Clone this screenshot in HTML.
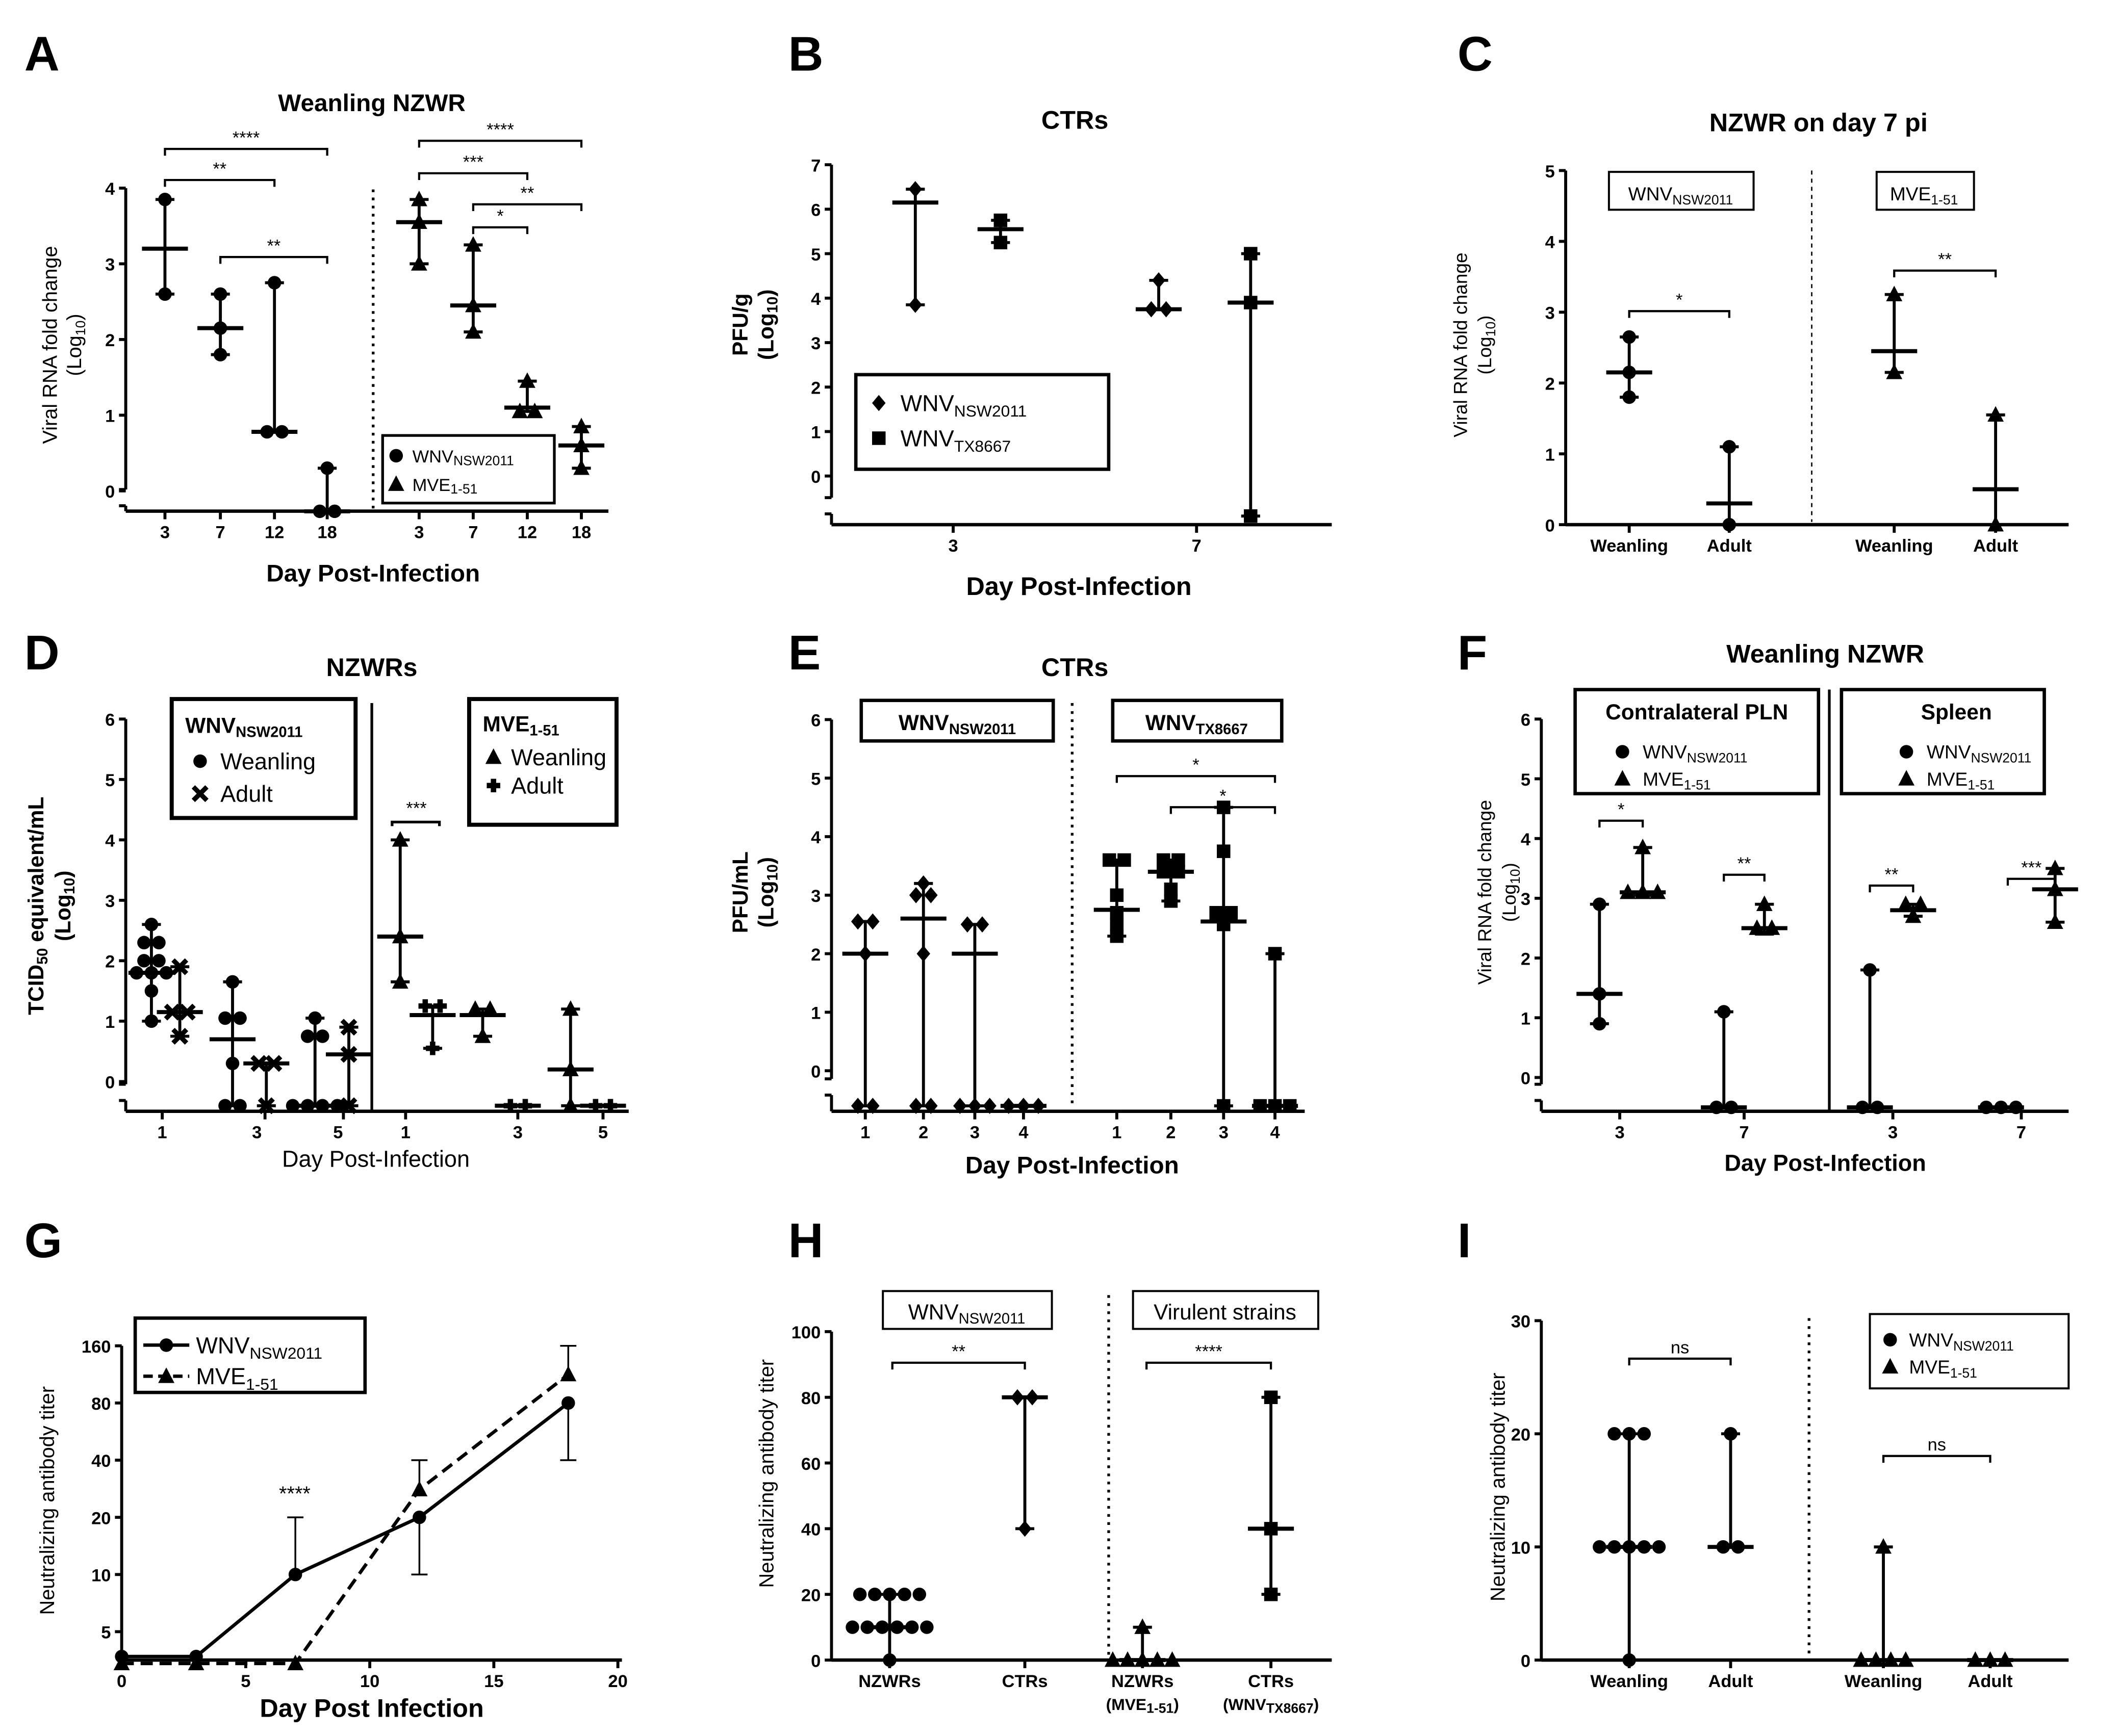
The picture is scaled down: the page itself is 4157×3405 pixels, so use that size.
<!DOCTYPE html>
<html><head><meta charset="utf-8"><style>
html,body{margin:0;padding:0;background:#fff;}
svg{display:block;font-family:"Liberation Sans",Arial,sans-serif;}
</style></head><body>
<svg id="fig" xmlns="http://www.w3.org/2000/svg" width="4157" height="3405" viewBox="0 0 1568 1284">
<rect x="0" y="0" width="1568" height="1284" fill="#fff"/>
</svg>
<script>
// ---------- data ----------
const aWnv=[[3.85,2.6],[2.6,2.15,1.8],[2.75,0.78,0.8],[0.3,-0.27,-0.27]];
const aWnvMed=[3.2,2.15,0.78,-0.27];
const aMve=[[3.85,3.55,3.0],[3.25,2.45,2.1],[1.45,1.05,1.1],[0.85,0.6,0.3]];
const aMveMed=[3.55,2.45,1.1,0.6];
const aDays=['3','7','12','18'];

const bNsw=[[6.45,3.85],[4.4,3.75,3.75]];
const bNswMed=[6.15,3.75];
const bTx=[[5.75,5.25],[5.0,3.9,-0.9]];
const bTxMed=[5.55,3.9];

const cVals=[[2.65,2.15,1.8],[1.1,0.0],[3.25,2.15],[1.55,0.0]];
const cMed=[2.15,0.3,2.45,0.5];
const cCats=['Weanling','Adult','Weanling','Adult'];

const dWnvW=[[2.6,2.3,2.2,2.0,1.9,1.8,1.8,1.7,1.5,1.0],[1.65,1.05,0.9,0.3,-0.4,-0.4],[1.05,0.75,0.6,-0.4,-0.4,-0.4,-0.4]];
const dWnvWMed=[1.8,0.7,-0.4];
const dWnvA=[[1.9,1.15,1.1,0.75],[0.3,0.3,-0.4],[0.9,0.45,-0.4]];
const dWnvAMed=[1.15,0.3,0.45];
const dMveW=[[4.0,2.4,1.65],[1.2,1.15,0.75],[1.2,0.2,-0.4]];
const dMveWMed=[2.4,1.1,0.2];
const dMveA=[[1.25,1.15,0.55],[-0.4,-0.4],[-0.4,-0.4]];
const dMveAMed=[1.1,-0.4,-0.4];
const dDays=['1','3','5'];

const eNsw=[[2.55,2.4,2.0,-0.6,-0.6],[3.2,3.0,2.9,2.0,-0.6,-0.6],[2.5,2.45,-0.6,-0.6,-0.6],[-0.6,-0.6,-0.6]];
const eNswMed=[2.0,2.6,2.0,-0.6];
const eTx=[[3.6,3.5,3.0,2.7,2.5,2.3],[3.6,3.5,3.4,3.3,3.1,2.9],[4.5,3.75,2.7,2.6,2.5,-0.6],[2.0,-0.6,-0.6,-0.6]];
const eTxMed=[2.75,3.4,2.55,-0.6];
const eDays=['1','2','3','4'];

const fWnv=[[2.9,1.4,0.9],[1.1,-0.5,-0.5],[1.8,-0.5,-0.5],[-0.5,-0.5,-0.5]];
const fWnvMed=[1.4,-0.5,-0.5,-0.5];
const fMve=[[3.85,3.1,3.05,3.1],[2.9,2.5,2.4],[2.9,2.75,2.7],[3.5,3.15,2.6]];
const fMveMed=[3.1,2.5,2.8,3.15];
const fDays=['3','7','3','7'];

const gDays=[0,3,7,12,18];
const gWnv=[3.7,3.7,10,20,80];
const gWnvErr=[null,null,20,10,40];
const gMve=[3.4,3.4,3.4,28,113];
const gMveErr=[null,null,null,40,160];
const gTicks=[5,10,20,40,80,160];

const hVals=[[20,20,20,20,20,10,10,10,10,10,10,0],[80,80,40],[10,0,0,0,0,0],[80,40,20]];
const hMed=[10,80,0,40];

const iVals=[[20,20,20,10,10,10,10,10,0],[20,10,10],[10,0,0,0,0],[0,0,0]];
const iMed=[10,10,0,0];
const iRangeTop=[20,20,2.5,0];

// ---------- helpers ----------
const NS='http://www.w3.org/2000/svg';
const S=document.getElementById('fig');
function el(tag,attrs,name,parent){
  const e=document.createElementNS(NS,tag);
  for(const k in attrs)e.setAttribute(k,attrs[k]);
  
  
  (parent||S).appendChild(e);return e;
}
function line(x1,y1,x2,y2,name,w,dash){const a={x1,y1,x2,y2,stroke:'#000','stroke-width':w||2.2};if(dash)a['stroke-dasharray']=dash;return el('line',a,name);}
function txt(x,y,s,name,size,opts){
  opts=opts||{};
  const t=el('text',{x,y,'font-size':size||14,'text-anchor':opts.anchor||'middle','font-weight':opts.bold?'bold':'normal',fill:'#000'},name);
  if(opts.rot)t.setAttribute('transform','rotate(-90 '+x+' '+y+')');
  t.innerHTML=s;return t;
}
function mk(type,x,y,name){
  const r=5;
  if(type==='circle')return el('circle',{cx:x,cy:y,r:r},name);
  if(type==='tri')return el('polygon',{points:`${x},${y-6.5} ${x+6},${y+5} ${x-6},${y+5}`},name);
  if(type==='dia')return el('polygon',{points:`${x},${y-6} ${x+5},${y} ${x},${y+6} ${x-5},${y}`},name);
  if(type==='sq')return el('rect',{x:x-5,y:y-5,width:10,height:10},name);
  if(type==='x')return el('path',{d:`M${x-5},${y-5}L${x+5},${y+5}M${x+5},${y-5}L${x-5},${y+5}`,stroke:'#000','stroke-width':3.5},name);
  if(type==='plus')return el('path',{d:`M${x-5},${y}L${x+5},${y}M${x},${y-5}L${x},${y+5}`,stroke:'#000','stroke-width':4},name);
}
function group(x,vals,med,type,yf,name,top){
  const ys=vals.map(yf);
  const mn=Math.max(...ys), mx=Math.min(...ys.concat(top!==undefined?[yf(top)]:[]));
  line(x,mx,x,mn,name+'-range');
  line(x-7,mx,x+7,mx,name+'-cap-top');
  line(x-7,mn,x+7,mn,name+'-cap-bottom');
  line(x-17,yf(med),x+17,yf(med),name+'-median',3);
  // spread duplicates
  const used={};
  const buckets=[];
  ys.forEach(y=>{let b=buckets.find(b=>Math.abs(b.y-y)<7);if(!b){b={y,n:0};buckets.push(b);}b.n++;});
  buckets.forEach(b=>{for(let i=0;i<b.n;i++){const dx=(i-(b.n-1)/2)*11;mk(type,x+dx,b.y,name+'-point');}});
}
function yaxis(x,ticks,yf,bottom,breakY,name,fmt){
  const top=yf(ticks[ticks.length-1]);
  line(x,top,x,breakY?breakY-8:bottom,name+'-line');
  if(breakY){line(x,breakY+4,x,bottom,name+'-line-low');line(x-5,breakY-8,x,breakY-8,name+'-break');line(x-5,breakY+4,x,breakY+4,name+'-break2');}
  ticks.forEach(t=>{const y=yf(t);line(x-5,y,x,y,name+'-tick');txt(x-8,y+5,fmt?fmt(t):t,name+'-tick-label',13,{anchor:'end',bold:true});});
}
function xaxis(x1,x2,y,ticks,labels,name){
  line(x1,y,x2,y,name+'-line',2.5);
  ticks.forEach((t,i)=>{line(t,y,t,y+6,name+'-tick');if(labels)txt(t,y+20,labels[i],name+'-tick-label',13,{bold:true});});
}
function bracket(x1,x2,y,label,name){
  el('path',{d:`M${x1},${y+5}L${x1},${y}L${x2},${y}L${x2},${y+5}`,fill:'none',stroke:'#000','stroke-width':1.6},name);
  txt((x1+x2)/2,y-4,label,name+'-label',13);
}
function box(x,y,w,h,name,sw){return el('rect',{x,y,width:w,height:h,fill:'#fff',stroke:'#000','stroke-width':sw||2.5},name);}
function letter(x,y,s){txt(x,y,s,'panel-label-'+s.toLowerCase(),36,{anchor:'start',bold:true});}

// ---------- Panel A ----------
letter(18,52,'A');
txt(275,82,'Weanling NZWR','panel-a-title',18,{bold:true});
const yA=v=>363-56*v;
yaxis(93,[0,1,2,3,4],yA,378,370,'panel-a-y-axis');
const aX1=[122,163,203,242], aX2=[310,350,390,430];
xaxis(93,450,378,aX1.concat(aX2),aDays.concat(aDays),'panel-a-x-axis');
line(276,140,276,376,'panel-a-separator',2,'2,4');
aWnv.forEach((v,i)=>group(aX1[i],v,aWnvMed[i],'circle',yA,'panel-a-wnv-day'+aDays[i]));
aMve.forEach((v,i)=>group(aX2[i],v,aMveMed[i],'tri',yA,'panel-a-mve-day'+aDays[i]));
bracket(122,242,110,'****','panel-a-sig1');bracket(122,203,133,'**','panel-a-sig2');bracket(163,242,190,'**','panel-a-sig3');
bracket(310,430,104,'****','panel-a-sig4');bracket(310,390,128,'***','panel-a-sig5');bracket(350,430,151,'**','panel-a-sig6');bracket(350,390,168,'*','panel-a-sig7');
box(283,322,127,50,'panel-a-legend',2);
mk('circle',293,337,'panel-a-legend-wnv-marker');txt(305,342,'WNV<tspan font-size="10" dy="2">NSW2011</tspan>','panel-a-legend-wnv',13,{anchor:'start'});
mk('tri',293,358,'panel-a-legend-mve-marker');txt(305,363,'MVE<tspan font-size="10" dy="2">1-51</tspan>','panel-a-legend-mve',13,{anchor:'start'});
txt(42,255,'Viral RNA fold change','panel-a-y-title',15,{rot:true});
txt(60,255,'(Log<tspan font-size="10" dy="3">10</tspan><tspan dy="-3">)</tspan>','panel-a-y-title2',15,{rot:true});
txt(276,430,'Day Post-Infection','panel-a-x-title',18,{bold:true});

// ---------- Panel B ----------
letter(583,52,'B');
txt(795,95,'CTRs','panel-b-title',19,{bold:true});
const yB=v=>352-32.9*v;
yaxis(615,[0,1,2,3,4,5,6,7],yB,388,376,'panel-b-y-axis');
xaxis(615,985,388,[705,885],['3','7'],'panel-b-x-axis');
const bXn=[677,857], bXt=[740,925];
bNsw.forEach((v,i)=>group(bXn[i],v,bNswMed[i],'dia',yB,'panel-b-nsw-'+i));
bTx.forEach((v,i)=>group(bXt[i],v,bTxMed[i],'sq',yB,'panel-b-tx-'+i));
box(633,277,187,70,'panel-b-legend',2.5);
mk('dia',650,298,'panel-b-legend-nsw-marker');txt(666,304,'WNV<tspan font-size="12" dy="4">NSW2011</tspan>','panel-b-legend-nsw',17,{anchor:'start'});
mk('sq',650,324,'panel-b-legend-tx-marker');txt(666,330,'WNV<tspan font-size="12" dy="4">TX8667</tspan>','panel-b-legend-tx',17,{anchor:'start'});
txt(553,240,'PFU/g','panel-b-y-title',16,{rot:true,bold:true});
txt(572,240,'(Log<tspan font-size="11" dy="3">10</tspan><tspan dy="-3">)</tspan>','panel-b-y-title2',16,{rot:true,bold:true});
txt(798,440,'Day Post-Infection','panel-b-x-title',19,{bold:true});

// ---------- Panel C ----------
letter(1078,52,'C');
txt(1345,97,'NZWR on day 7 pi','panel-c-title',19,{bold:true});
const yC=v=>388-52.4*v;
yaxis(1158,[0,1,2,3,4,5],yC,388,null,'panel-c-y-axis');
const cX=[1205,1279,1401,1476];
xaxis(1158,1530,388,cX,cCats,'panel-c-x-axis');
line(1340,126,1340,386,'panel-c-separator',1,'3,3');
const cT=['circle','circle','tri','tri'];
cVals.forEach((v,i)=>group(cX[i],v,cMed[i],cT[i],yC,'panel-c-group-'+i));
bracket(1205,1279,230,'*','panel-c-sig1');bracket(1401,1476,200,'**','panel-c-sig2');
box(1190,127,107,28,'panel-c-box-wnv',1.5);txt(1243,148,'WNV<tspan font-size="10" dy="3">NSW2011</tspan>','panel-c-box-wnv-label',14);
box(1388,127,72,28,'panel-c-box-mve',1.5);txt(1423,148,'MVE<tspan font-size="10" dy="3">1-51</tspan>','panel-c-box-mve-label',14);
txt(1085,255,'Viral RNA fold change','panel-c-y-title',14,{rot:true});
txt(1103,255,'(Log<tspan font-size="10" dy="3">10</tspan><tspan dy="-3">)</tspan>','panel-c-y-title2',14,{rot:true});

// ---------- Panel D ----------
letter(18,495,'D');
txt(275,500,'NZWRs','panel-d-title',19,{bold:true});
const yD=v=>800-44.7*v;
yaxis(93,[0,1,2,3,4,5,6],yD,822,810,'panel-d-y-axis');
xaxis(93,465,822,[120,196,254,300,383,446],null,'panel-d-x-axis');
['1','3','5','1','3','5'].forEach((s,i)=>txt([120,190,250,300,383,446][i],842,s,'panel-d-x-tick-label',13,{bold:true}));
line(275,520,275,822,'panel-d-separator',2);
const dxW=[112,172,233],dxA=[133,197,258],dxMW=[296,357,422],dxMA=[320,383,446];
dWnvW.forEach((v,i)=>group(dxW[i],v,dWnvWMed[i],'circle',yD,'panel-d-wnv-weanling-'+i));
dWnvA.forEach((v,i)=>group(dxA[i],v,dWnvAMed[i],'x',yD,'panel-d-wnv-adult-'+i));
dMveW.forEach((v,i)=>group(dxMW[i],v,dMveWMed[i],'tri',yD,'panel-d-mve-weanling-'+i));
dMveA.forEach((v,i)=>group(dxMA[i],v,dMveAMed[i],'plus',yD,'panel-d-mve-adult-'+i));
el('path',{d:'M290,611L290,608L325,608L325,611',fill:'none',stroke:'#000','stroke-width':2},'panel-d-sig');txt(308,602,'***','panel-d-sig-label',13);
box(127,517,136,88,'panel-d-legend-wnv',3);
txt(137,542,'WNV<tspan font-size="11" dy="3">NSW2011</tspan>','panel-d-legend-wnv-title',16,{anchor:'start',bold:true});
mk('circle',148,563,'panel-d-legend-weanling-marker');txt(163,569,'Weanling','panel-d-legend-weanling',17,{anchor:'start'});
mk('x',148,587,'panel-d-legend-adult-marker');txt(163,593,'Adult','panel-d-legend-adult',17,{anchor:'start'});
box(347,517,109,93,'panel-d-legend-mve',3);
txt(357,541,'MVE<tspan font-size="11" dy="3">1-51</tspan>','panel-d-legend-mve-title',16,{anchor:'start',bold:true});
mk('tri',365,560,'panel-d-legend-weanling2-marker');txt(378,566,'Weanling','panel-d-legend-weanling2',17,{anchor:'start'});
mk('plus',365,581,'panel-d-legend-adult2-marker');txt(378,587,'Adult','panel-d-legend-adult2',17,{anchor:'start'});
txt(32,670,'TCID<tspan font-size="11" dy="3">50</tspan><tspan dy="-3"> equivalent/mL</tspan>','panel-d-y-title',16,{rot:true,bold:true});
txt(52,670,'(Log<tspan font-size="11" dy="3">10</tspan><tspan dy="-3">)</tspan>','panel-d-y-title2',16,{rot:true,bold:true});
txt(278,863,'Day Post-Infection','panel-d-x-title',17);

// ---------- Panel E ----------
letter(583,495,'E');
txt(795,500,'CTRs','panel-e-title',19,{bold:true});
const yE=v=>792-43.3*v;
yaxis(615,[0,1,2,3,4,5,6],yE,822,806,'panel-e-y-axis');
const eX1=[640,683,721,757],eX2=[826,866,905,943];
xaxis(615,965,822,eX1.concat(eX2),eDays.concat(eDays),'panel-e-x-axis');
line(793,520,793,820,'panel-e-separator',2,'2,4');
eNsw.forEach((v,i)=>group(eX1[i],v,eNswMed[i],'dia',yE,'panel-e-nsw-day'+eDays[i]));
eTx.forEach((v,i)=>group(eX2[i],v,eTxMed[i],'sq',yE,'panel-e-tx-day'+eDays[i]));
bracket(826,943,574,'*','panel-e-sig1');bracket(866,943,597,'*','panel-e-sig2');
box(637,518,142,30,'panel-e-box-nsw',2.5);txt(708,540,'WNV<tspan font-size="11" dy="3">NSW2011</tspan>','panel-e-box-nsw-label',16,{bold:true});
box(823,518,125,30,'panel-e-box-tx',2.5);txt(885,540,'WNV<tspan font-size="11" dy="3">TX8667</tspan>','panel-e-box-tx-label',16,{bold:true});
txt(553,660,'PFU/mL','panel-e-y-title',16,{rot:true,bold:true});
txt(572,660,'(Log<tspan font-size="11" dy="3">10</tspan><tspan dy="-3">)</tspan>','panel-e-y-title2',16,{rot:true,bold:true});
txt(793,868,'Day Post-Infection','panel-e-x-title',18,{bold:true});

// ---------- Panel F ----------
letter(1078,495,'F');
txt(1350,490,'Weanling NZWR','panel-f-title',19,{bold:true});
const yF=v=>797-44.2*v;
yaxis(1140,[0,1,2,3,4,5,6],yF,822,810,'panel-f-y-axis');
xaxis(1140,1530,822,[1198,1290,1400,1495],fDays,'panel-f-x-axis');
line(1353,510,1353,822,'panel-f-separator',2);
const fXw=[1183,1275,1383,1480],fXm=[1215,1305,1415,1520];
fWnv.forEach((v,i)=>group(fXw[i],v,fWnvMed[i],'circle',yF,'panel-f-wnv-'+i));
fMve.forEach((v,i)=>group(fXm[i],v,fMveMed[i],'tri',yF,'panel-f-mve-'+i));
bracket(1183,1215,607,'*','panel-f-sig1');bracket(1275,1305,647,'**','panel-f-sig2');bracket(1383,1415,655,'**','panel-f-sig3');bracket(1485,1520,650,'***','panel-f-sig4');
box(1165,510,180,77,'panel-f-legend-pln',2.5);
txt(1255,532,'Contralateral PLN','panel-f-legend-pln-title',16,{bold:true});
mk('circle',1200,556,'panel-f-legend-wnv-marker');txt(1215,561,'WNV<tspan font-size="10" dy="3">NSW2011</tspan>','panel-f-legend-wnv',14,{anchor:'start'});
mk('tri',1200,576,'panel-f-legend-mve-marker');txt(1215,581,'MVE<tspan font-size="10" dy="3">1-51</tspan>','panel-f-legend-mve',14,{anchor:'start'});
box(1362,510,150,77,'panel-f-legend-spleen',2.5);
txt(1447,532,'Spleen','panel-f-legend-spleen-title',16,{bold:true});
mk('circle',1410,556,'panel-f-legend-wnv2-marker');txt(1425,561,'WNV<tspan font-size="10" dy="3">NSW2011</tspan>','panel-f-legend-wnv2',14,{anchor:'start'});
mk('tri',1410,576,'panel-f-legend-mve2-marker');txt(1425,581,'MVE<tspan font-size="10" dy="3">1-51</tspan>','panel-f-legend-mve2',14,{anchor:'start'});
txt(1103,660,'Viral RNA fold change','panel-f-y-title',14,{rot:true});
txt(1121,660,'(Log<tspan font-size="10" dy="3">10</tspan><tspan dy="-3">)</tspan>','panel-f-y-title2',14,{rot:true});
txt(1350,866,'Day Post-Infection','panel-f-x-title',17,{bold:true});

// ---------- Panel G ----------
letter(18,930,'G');
const xG=d=>90+18.35*d;
const yG=v=>1207-42.3*Math.log2(v/5);
yaxis(90,gTicks,yG,1228,null,'panel-g-y-axis');
xaxis(90,460,1228,[0,5,10,15,20].map(xG),['0','5','10','15','20'],'panel-g-x-axis');
el('polyline',{points:gDays.map((d,i)=>xG(d)+','+yG(gWnv[i])).join(' '),fill:'none',stroke:'#000','stroke-width':2.5},'panel-g-wnv-line');
el('polyline',{points:gDays.map((d,i)=>xG(d)+','+yG(gMve[i])).join(' '),fill:'none',stroke:'#000','stroke-width':2.5,'stroke-dasharray':'9,5'},'panel-g-mve-line');
gDays.forEach((d,i)=>{
  if(gWnvErr[i]){line(xG(d),yG(gWnv[i]),xG(d),yG(gWnvErr[i]),'panel-g-wnv-error',1.3);line(xG(d)-6,yG(gWnvErr[i]),xG(d)+6,yG(gWnvErr[i]),'panel-g-wnv-error-cap',1.3);}
  if(gMveErr[i]){line(xG(d),yG(gMve[i]),xG(d),yG(gMveErr[i]),'panel-g-mve-error',1.3);line(xG(d)-6,yG(gMveErr[i]),xG(d)+6,yG(gMveErr[i]),'panel-g-mve-error-cap',1.3);}
  mk('circle',xG(d),yG(gWnv[i]),'panel-g-wnv-point');
  mk('tri',xG(d),yG(gMve[i]),'panel-g-mve-point');
});
txt(218,1110,'****','panel-g-sig',15);
box(100,975,170,55,'panel-g-legend',2.5);
line(106,995,140,995,'panel-g-legend-wnv-line',2.5);mk('circle',123,995,'panel-g-legend-wnv-marker');
txt(145,1001,'WNV<tspan font-size="12" dy="4">NSW2011</tspan>','panel-g-legend-wnv',17,{anchor:'start'});
line(106,1018,140,1018,'panel-g-legend-mve-line',2.5,'7,4');mk('tri',123,1018,'panel-g-legend-mve-marker');
txt(145,1024,'MVE<tspan font-size="12" dy="4">1-51</tspan>','panel-g-legend-mve',17,{anchor:'start'});
txt(40,1110,'Neutralizing antibody titer','panel-g-y-title',15,{rot:true});
txt(275,1270,'Day Post Infection','panel-g-x-title',19,{bold:true});

// ---------- Panel H ----------
letter(583,930,'H');
const yH=v=>1228-2.43*v;
yaxis(615,[0,20,40,60,80,100],yH,1228,null,'panel-h-y-axis');
const hX=[658,758,845,940];
xaxis(615,985,1228,hX,null,'panel-h-x-axis');
txt(658,1248,'NZWRs','panel-h-x-label',13,{bold:true});txt(758,1248,'CTRs','panel-h-x-label',13,{bold:true});
txt(845,1248,'NZWRs','panel-h-x-label',13,{bold:true});txt(845,1265,'(MVE<tspan font-size="10" dy="2">1-51</tspan><tspan dy="-2">)</tspan>','panel-h-x-label',12,{bold:true});
txt(940,1248,'CTRs','panel-h-x-label',13,{bold:true});txt(940,1265,'(WNV<tspan font-size="10" dy="2">TX8667</tspan><tspan dy="-2">)</tspan>','panel-h-x-label',12,{bold:true});
line(820,958,820,1226,'panel-h-separator',2,'2,4');
const hT=['circle','dia','tri','sq'];
hVals.forEach((v,i)=>group(hX[i],v,hMed[i],hT[i],yH,'panel-h-group-'+i));
bracket(660,758,1008,'**','panel-h-sig1');bracket(848,940,1008,'****','panel-h-sig2');
box(653,955,125,28,'panel-h-box-wnv',1.5);txt(715,976,'WNV<tspan font-size="11" dy="3">NSW2011</tspan>','panel-h-box-wnv-label',16);
box(838,955,137,28,'panel-h-box-virulent',1.5);txt(906,976,'Virulent strains','panel-h-box-virulent-label',16);
txt(572,1090,'Neutralizing antibody titer','panel-h-y-title',15,{rot:true});

// ---------- Panel I ----------
letter(1078,930,'I');
const yI=v=>1228-8.37*v;
yaxis(1140,[0,10,20,30],yI,1228,null,'panel-i-y-axis');
const iX=[1205,1280,1393,1472];
xaxis(1140,1530,1228,iX,['Weanling','Adult','Weanling','Adult'],'panel-i-x-axis');
line(1338,975,1338,1226,'panel-i-separator',2,'2,4');
const iT=['circle','circle','tri','tri'];
iVals.forEach((v,i)=>group(iX[i],v,iMed[i],iT[i],yI,'panel-i-group-'+i,iRangeTop[i]));
bracket(1205,1280,1005,'ns','panel-i-sig1');bracket(1393,1472,1077,'ns','panel-i-sig2');
box(1383,972,147,55,'panel-i-legend',1.5);
mk('circle',1398,991,'panel-i-legend-wnv-marker');txt(1412,996,'WNV<tspan font-size="10" dy="3">NSW2011</tspan>','panel-i-legend-wnv',14,{anchor:'start'});
mk('tri',1398,1011,'panel-i-legend-mve-marker');txt(1412,1016,'MVE<tspan font-size="10" dy="3">1-51</tspan>','panel-i-legend-mve',14,{anchor:'start'});
txt(1113,1100,'Neutralizing antibody titer','panel-i-y-title',15,{rot:true});
</script>
</body></html>
